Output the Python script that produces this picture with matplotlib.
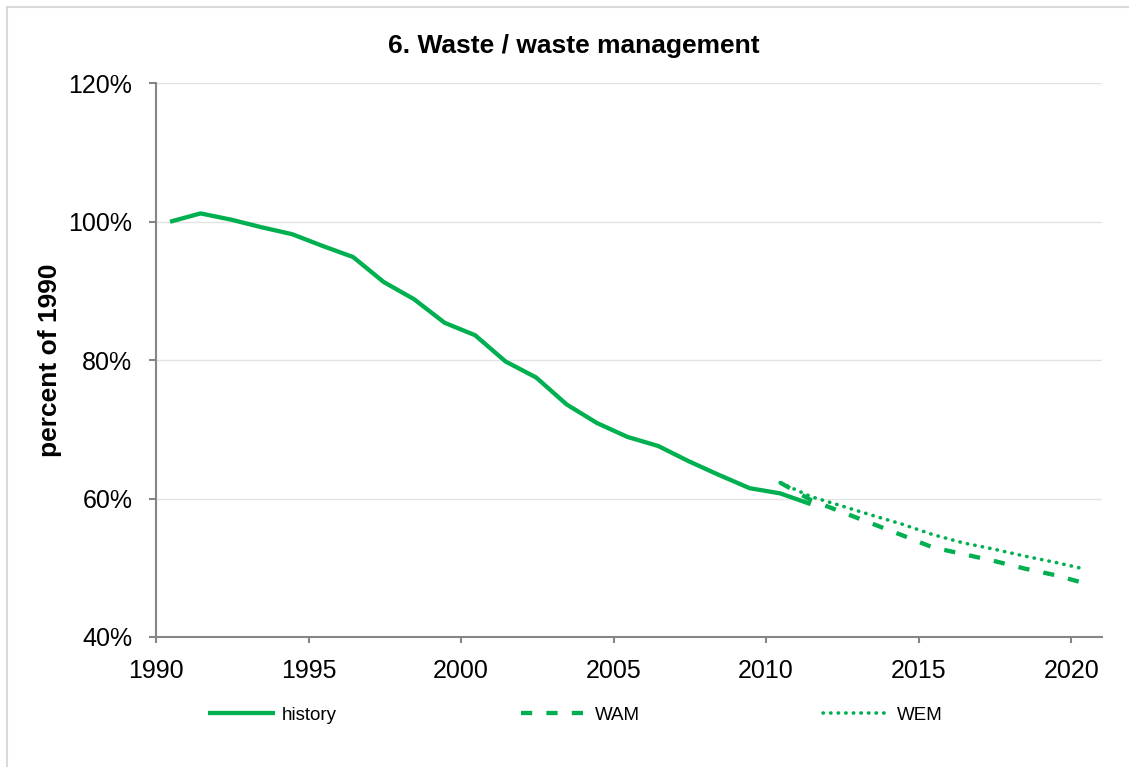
import matplotlib.pyplot as plt
import numpy as np
from matplotlib.patches import Rectangle

plt.rcParams['font.family'] = ['Liberation Sans', 'DejaVu Sans']

# donnees (en % de 1990)
annees_hist = np.arange(1990, 2012)
history = [100, 101.2, 100.3, 99.2, 98.2, 96.5, 94.9, 91.3, 88.8, 85.4, 83.6,
           79.8, 77.5, 73.6, 70.9, 68.9, 67.6, 65.4, 63.4, 61.5, 60.75, 59.2]

annees_proj = np.arange(2010, 2021)
wam = [62.3, 59.8, 58.1, 56.4, 54.7, 52.95, 51.98, 51.0, 49.9, 48.95, 47.75]
wem = [62.3, 60.3, 58.96, 57.6, 56.3, 54.8, 53.6, 52.7, 51.7, 50.8, 49.8]

x_ticks = [1990, 1995, 2000, 2005, 2010, 2015, 2020]
y_ticks = [40, 60, 80, 100, 120]

vert = '#00B050'
gris = '#868686'

fig = plt.figure(figsize=(11.29, 7.67), dpi=100)
ax = fig.add_axes([0.1382, 0.1695, 0.8376, 0.7219])

# les points sont au milieu de l'annee (axe de dates excel)
decal = 0.46
ax.plot(annees_hist + decal, history, color=vert, lw=3.1, solid_capstyle='butt',
        label='history')
ax.plot(annees_proj + decal, wam, color=vert, lw=3.1, ls=(0, (2.6, 3.3)),
        label='WAM')
ax.plot(annees_proj + decal, wem, color=vert, lw=2.6, ls=(0, (0.1, 2.0)),
        dash_capstyle='round', label='WEM')

ax.set_xlim(1990, 2021)
ax.set_ylim(40, 120)
ax.set_xticks(x_ticks)
ax.set_xticklabels([str(a) for a in x_ticks])
ax.set_yticks(y_ticks)
ax.set_yticklabels([f'{v}%' for v in y_ticks])

ax.grid(axis='y', color='#e3e3e3', lw=1)
ax.set_axisbelow(True)
for s in ['top', 'right']:
    ax.spines[s].set_visible(False)
for s in ['left', 'bottom']:
    ax.spines[s].set_color(gris)
    ax.spines[s].set_linewidth(1.5)
ax.tick_params(axis='y', length=5, width=1.5, color=gris, pad=12, labelsize=18)
ax.tick_params(axis='x', length=4.5, width=1.5, color=gris, pad=11, labelsize=18)

ax.set_ylabel('percent of 1990', fontsize=19, fontweight='bold')
ax.yaxis.set_label_coords(-0.0994, 0.5)

fig.text(0.508, 1 - 46 / 767, '6. Waste / waste management', fontsize=19,
         fontweight='bold', ha='center', va='center')

fig.legend(loc='center left', bbox_to_anchor=(208 / 1129, 1 - 715 / 767),
           ncol=3, frameon=False, fontsize=13.5, handlelength=3.57,
           handletextpad=0.37, columnspacing=9.8, borderpad=0, borderaxespad=0)

# bordure du cadre du graphique
fig.patches.append(Rectangle((7 / 1129, -0.1), 1.2, 1 - 7 / 767 + 0.1,
                             transform=fig.transFigure, fill=False,
                             edgecolor='#d9d9d9', lw=1.5))

fig.savefig('out.png', dpi=100)
